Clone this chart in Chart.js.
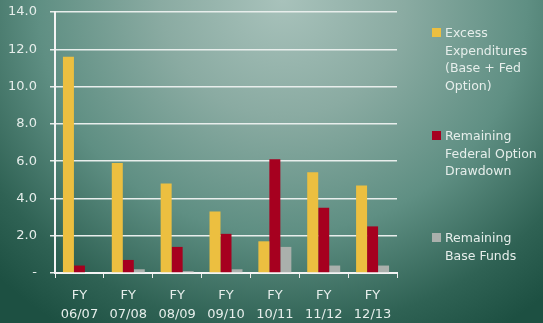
<!DOCTYPE html>
<html><head><meta charset="utf-8">
<script src="https://cdn.jsdelivr.net/npm/chart.js@4/dist/chart.umd.min.js"></script>
<style>
html,body{margin:0;padding:0;}
body{width:543px;height:323px;overflow:hidden;position:relative;
background:radial-gradient(ellipse 75% 120% at 52% 0%, #a8c2bb 0%, #8aaba2 30%, #5f8f83 60%, #2f6254 85%, #1d5042 100%);}
#wrap{position:absolute;left:0;top:0;width:543px;height:323px;}
.leg{position:absolute;left:432px;font-family:"DejaVu Sans",sans-serif;font-size:12.5px;color:#e6eeeb;line-height:17.5px;}
.leg .sw{position:absolute;left:0;width:9px;height:9px;}
.leg .tx{position:absolute;left:13px;white-space:nowrap;}
</style></head>
<body>
<div id="wrap"><canvas id="c" width="543" height="323"></canvas></div>
<div id="legend"></div>
<script>
const categories = [["FY","06/07"],["FY","07/08"],["FY","08/09"],["FY","09/10"],["FY","10/11"],["FY","11/12"],["FY","12/13"]];
const excessExpenditures = [11.6, 5.9, 4.8, 3.3, 1.7, 5.4, 4.7];
const federalOptionDrawdown = [0.4, 0.7, 1.4, 2.1, 6.1, 3.5, 2.5];
const baseFunds = [0.0, 0.2, 0.1, 0.2, 1.4, 0.4, 0.4];
const seriesLabels = [["Excess","Expenditures","(Base + Fed","Option)"],["Remaining","Federal Option","Drawdown"],["Remaining","Base Funds"]];
const seriesColors = ["#ecbf40","#a6001f","#aab0ac"];
const yTickLabels = ["-", "2.0", "4.0", "6.0", "8.0", "10.0", "12.0", "14.0"];

const tickColor = "#e6eeeb";
const xFont = {family: "DejaVu Sans", size: 13, lineHeight: 1.4};
const yFont = {family: "DejaVu Sans", size: 13, lineHeight: 1.2};

new Chart(document.getElementById('c'), {
  type: 'bar',
  data: {
    labels: categories,
    datasets: [excessExpenditures, federalOptionDrawdown, baseFunds].map((d,i)=>({
      label: seriesLabels[i].join(' '), data: d, backgroundColor: seriesColors[i],
      borderWidth: 0, categoryPercentage: 0.675, barPercentage: 1
    }))
  },
  options: {
    responsive: false, animation: false,
    layout: {padding: {left: 0, right: 146, top: 12, bottom: 0}},
    plugins: {legend: {display: false}, tooltip: {enabled: false}},
    scales: {
      x: {
        grid: {offset: true, drawOnChartArea: false, tickLength: 5, color: '#eeeeee', lineWidth: 1},
        border: {color: '#f4f4f4', width: 2},
        ticks: {color: tickColor, font: xFont, padding: 9, maxRotation: 0},
        afterFit: s => { s.height = 50; }
      },
      y: {
        min: 0, max: 14,
        grid: {color: '#e8eeec', lineWidth: 1.5, tickLength: 5},
        border: {color: '#f4f4f4', width: 2},
        ticks: {color: tickColor, font: yFont, padding: 13, stepSize: 2,
          callback: (v, i) => yTickLabels[i]},
        afterFit: s => { s.width = 55; s.paddingTop = 0; s.paddingBottom = 0; }
      }
    }
  }
});

const legTops = [24, 127, 229];
const leg = document.getElementById('legend');
seriesLabels.forEach((lines, i) => {
  const d = document.createElement('div');
  d.className = 'leg';
  d.style.top = legTops[i] + 'px';
  const sw = document.createElement('div');
  sw.className = 'sw'; sw.style.background = seriesColors[i]; sw.style.top = '4px';
  const tx = document.createElement('div');
  tx.className = 'tx'; tx.innerHTML = lines.join('<br>');
  d.appendChild(sw); d.appendChild(tx); leg.appendChild(d);
});
</script>
</body></html>
